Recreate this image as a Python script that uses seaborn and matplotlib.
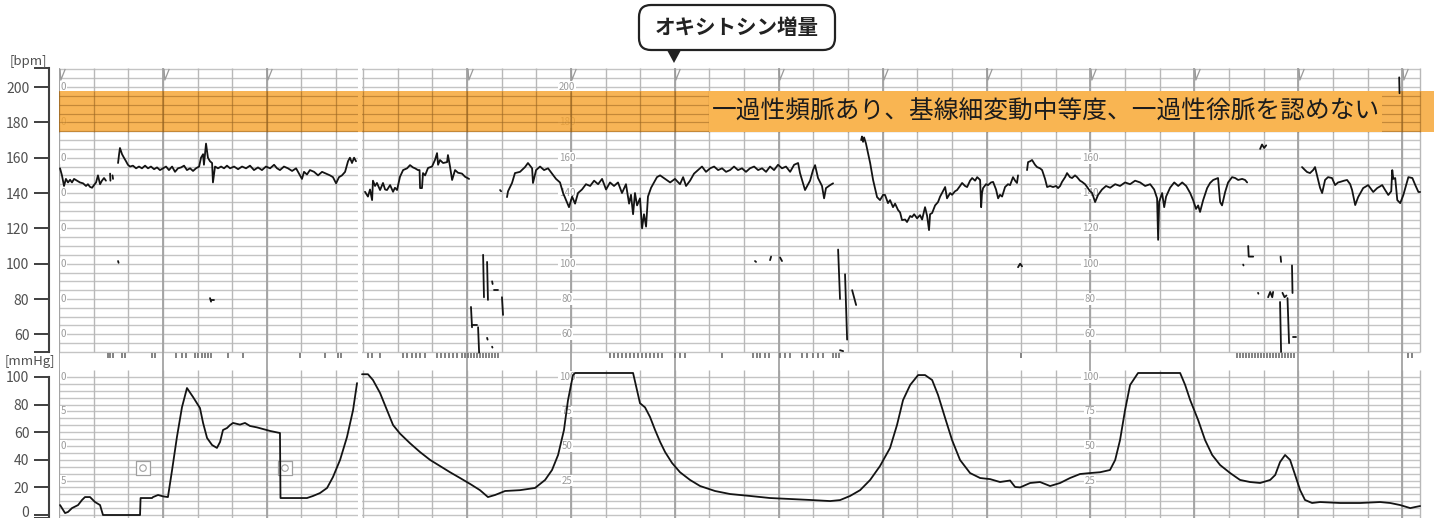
import numpy as np
import pandas as pd
import matplotlib
matplotlib.use("Agg")
import matplotlib.pyplot as plt
import seaborn as sns
from matplotlib.patches import FancyBboxPatch, Polygon, Rectangle
from matplotlib.path import Path
from matplotlib.transforms import IdentityTransform, ScaledTranslation

sns.set_theme(style="white")
plt.rcParams["font.family"] = ["Noto Sans CJK JP", "DejaVu Sans"]

N = np.nan

# ---------------- fetal heart rate (time in s, bpm) ----------------
fhr_p1_t = [0.6, 1.7, 2.9, 4.0, 5.2, 6.4, 7.5, 8.7, 10.4, 12.1, 13.9, 15.6, 16.7, 17.9, 19.1, 20.2, 21.4, 22.5,
            23.7, 24.8, 26.0, 27.1, N, 29.5, 29.7, N, 30.9, 31.2, N,
            34.1, 34.7, 35.2, 36.4, 37.5, 38.7, 39.8, 41.0, 42.7, 44.5, 46.2, 47.9, 49.7, 51.4, 53.1, 54.9, 56.6,
            58.3, 60.1, 61.8, 63.5, 65.3, 67.0, 68.7, 70.5, 72.2, 73.9, 75.7, 77.4, 79.1, 80.9, 82.0, 83.2, 83.7,
            84.9, 86.0, 87.2, 88.4, 88.9, 90.1, 91.8, 93.6, 95.3, 97.0, 98.8, 101.1, 103.4, 105.7, 108.0, 110.3,
            112.6, 114.9, 117.2, 119.5, 121.9, 124.2, 125.9, 127.6, 129.9, 132.2, 134.6, 136.9, 138.6, 140.3,
            141.5, 143.2, 144.9, 147.3, 149.6, 151.9, 154.2, 156.5, 158.2, 160.0, 161.7, 163.4, 165.2, 166.9,
            168.0, 169.2, 170.4, 171.5, N]
fhr_p1_bpm = [154, 150, 144, 148, 146, 147.5, 146, 148, 147, 146, 145.5, 144, 145, 143.5, 143, 144.5, 146, 150,
              145, 147, 148.5, 147, N, 151, 147, N, 150, 148, N,
              157, 162, 165.5, 162, 160, 158, 156, 155, 155.5, 154, 155, 154, 155.5, 154, 155, 153.5, 154.5,
              153, 154, 155, 153, 155, 152, 154, 154.5, 155.5, 153, 154, 152.5, 154, 155, 160, 162, 156,
              168, 160, 158, 157, 146, 155, 154, 155, 154, 155.5, 154, 155, 153.5, 155, 154, 155.5,
              153, 154.5, 153, 155, 154, 156, 154, 153, 155, 154, 152.5, 154, 151, 148,
              152, 150.5, 153, 152, 150, 152, 151, 150, 149, 145.5, 149, 150, 152, 158,
              160, 157, 160, 158, N]

fhr_p2_t = [176.7, 178.4, 179.6, 180.8, 181.3, 182.5, 183.6, 185.4, 187.1, 188.3, 189.4, 191.2, 192.9, 194.0,
            195.2, 196.9, 198.7, 201.0, 202.7, 204.4, 205.6, 207.3, 208.2, 208.5, 209.6, 210.2, 211.4, 213.1,
            215.4, 217.1, 218.3, 218.9, 220.0, 221.8, 224.1, 224.6, 225.8, 227.0, 228.7, 230.4, 232.7, 234.5,
            236.8, N, 254.7, 255.3, N,
            258.7, 259.3, 261.6, 263.3, 266.2, 269.1, 270.8, 273.2, 273.7, 275.5, 277.8, 280.1, 282.4, 284.7,
            287.0, 289.3, 291.1, 292.8, 294.5, 296.3, 298.0, 299.7, 302.0, 304.3, 306.7, 309.0, 311.3, 313.6,
            315.9, 318.2, 320.5, 322.8, 325.1, 327.4, 329.2, 330.3, 331.5, 332.6, 333.8, 335.5, 336.7, 337.8,
            339.0, 340.1, 341.9, 343.6, 345.3, 347.1, 350.0, 352.9, 355.7, 358.6, 360.4, 362.1, 364.4, 366.7,
            369.0, 371.3, 373.6, 376.0, 378.3, 380.6, 382.9, 385.2, 387.5, 389.8, 392.1, 394.4, 396.7, 399.0,
            401.4, 403.7, 406.0, 408.3, 410.6, 412.9, 415.2, 417.5, 419.8, 422.2, 424.5, 426.8, 427.9, 430.8,
            433.7, 435.4, 436.6, 438.3, 440.6, 441.8, 442.9, 445.3, 447.0, N]
fhr_p2_bpm = [140.7, 138, 142, 136, 147, 144, 145.7, 141.7, 145.7, 142, 141.7, 144.5, 140.7, 143,
              141.7, 149.2, 153, 154, 155.8, 154.5, 154, 153, 153, 142.8, 142.8, 151.3, 150, 154.2,
              155, 158.7, 162.6, 156, 158.7, 157, 157.5, 161.5, 155, 147.4, 153, 151.5, 151, 149.2,
              148, N, 141.7, 141, N,
              137.7, 141, 145.7, 151.3, 152, 154.7, 157, 154, 145.7, 153, 155, 153, 154, 151,
              148, 146, 140, 136, 132, 138, 134, 140, 142, 145, 144, 147, 145, 148,
              142, 146, 144, 146, 140, 145, 134, 139, 128, 140, 133, 137, 120, 128,
              121, 138, 143, 146, 149, 150, 148, 146, 148, 145, 149, 144, 147, 151,
              153, 155, 152, 154, 155, 153, 154, 152, 153, 155, 153, 154, 152, 154,
              155, 153, 154, 152, 155, 153, 156, 154, 155, 152, 156, 157, 151.3, 141.7,
              147, 153, 155.8, 148.5, 144, 137, 142.8, 144.5, 145.5, N]

fhr_p3_t = [463.2, 463.7, 464.3, 464.9, 466.0, 468.4, 470.1, 472.4, 474.1, 475.9, 477.0, 478.7, 479.9, 481.6,
            482.8, 484.5, 485.7, 486.8, 488.6, 489.7, 491.5, 492.6, 493.8, 495.5, 497.2, 498.4, 500.1, 501.3,
            502.4, 503.0, 504.2, 505.9, 507.6, 508.8, 509.9, 511.7, 512.8, 514.6, 515.7, 517.4, 518.6, 520.3,
            521.5, 523.2, 524.4, 526.1, 527.3, 529.0, 530.2, 531.3, 531.9, 532.5, 533.0, 533.6, 535.3, 536.5,
            538.2, 539.4, 541.1, 542.3, 543.4, 544.6, 546.3, 548.0, 549.2, 550.9, 552.1, 553.2, 553.8, N,
            559.0, 559.6, 560.8, 561.9, 563.6, 564.8, 566.5, 567.7, 569.4, 570.6, 572.3, 574.0, 575.8, 576.9,
            578.1, 579.2, 581.0, 582.1, 583.8, 585.0, 586.7, 587.9, 589.6, 590.8, 592.5, 593.7, 595.4, 596.6,
            598.3, 600.0, 602.3, 604.6, 607.0, 609.9, 612.7, 615.6, 618.5, 621.4, 624.3, 627.2, 630.1, 632.4,
            634.1, 634.7, 635.3, 637.0, 638.2, 639.3, 641.6, 644.0, 646.3, 648.6, 650.9, 653.2, 654.9, 656.6,
            657.8, 658.9, 660.7, 663.0, 664.7, 666.5, 669.3, 670.5, 671.6, 673.4, 675.1, 677.4, 679.2, 680.9,
            683.2, 684.9, 686.1, N]
fhr_p3_bpm = [170, 172, 169, 171.5, 168, 157, 147.4, 137.7, 136, 139, 138.9, 134.3, 136, 132,
              134, 130.4, 129, 124.7, 125, 123.6, 127, 126.4, 128, 125.7, 127.5, 125, 132, 127,
              119, 128, 128.7, 133, 134.9, 138, 140, 143.4, 137, 140, 139, 141, 141.7, 144,
              145.7, 144, 143.4, 147, 148.5, 147, 149, 148, 147.4, 132, 140, 142.8, 145, 144.5,
              146, 146.3, 142, 137, 139, 138, 143.4, 145, 144.5, 149, 147, 145.7, 150, N,
              153, 157.5, 158, 158.7, 156, 154.7, 154, 153, 148, 143.4, 144, 143.4, 144, 142.8,
              144, 146.3, 149, 151.3, 149, 148.5, 150, 149, 147, 146.3, 145, 143.4, 141, 140,
              134.9, 138.9, 142, 144, 143, 145, 144, 146, 145, 147, 146, 144, 145, 142,
              137, 113.5, 135, 140, 132, 138, 143, 146, 144, 146, 144, 140, 136, 131,
              133, 129.3, 136, 142.8, 145.7, 147.4, 148.5, 134.9, 133, 140.6, 146, 149, 148.5, 147.4,
              148, 147.4, 146, N]

fhr_p4_t = [717.8, 719.5, 720.7, 722.4, 724.2, 725.3, 727.1, 728.2, 729.4, 731.1, 732.8, 735.1, 736.9, 738.6,
            739.8, 742.1, 743.8, 745.6, 746.7, 748.5, 750.2, 753.1, 756.0, 758.9, 761.2, 764.1, 765.8, 767.6,
            769.3, 769.9, 770.5, 771.6, 772.8, 774.5, 776.3, 779.2, 781.5, 783.2, 785.0, 786.0]
fhr_p4_bpm = [154.7, 153, 151.9, 151.3, 153, 154.7, 147.4, 143, 140, 147.4, 149, 148.5, 144.5, 146,
              146.3, 147, 147.4, 145, 141.7, 133.2, 137.7, 142.8, 144.5, 140.6, 142.8, 144.5, 141.7, 138.9,
              141, 153, 148, 148.5, 136, 134.3, 138.9, 149, 148.5, 144.5, 140.6, 140.6]

# short stray strokes of the heart-rate pen (maternal pulse / signal loss)
stray_t = [34.1, 34.4, N, 87.2, 87.8, N, 87.8, 89.5, N,
           237.9, 238.5, N, 238.5, 241.4, N, 242.0, 242.6, N, 244.9, 245.4, N, 247.2, 247.7, N,
           250.1, 250.4, N, 251.2, 253.5, N, 255.8, 256.4, N, 247.2, 247.5, N, 250.1, 250.3, N,
           401.9, 402.5, N, 410.6, 411.2, N, 416.4, 417.5, N,
           449.9, 451.0, N, 453.9, 455.1, N, 458.0, 460.3, N, 451.0, 452.8, N,
           553.8, 555.0, 556.1, N,
           683.8, 684.0, N, 686.7, 687.0, 689.6, N, 705.4, 705.7, N, 712.0, 712.3, N, 692.4, 692.6, N,
           698.2, 699.4, 700.6, 701.1, N, 706.5, 707.7, 708.8, N, 705.1, 705.7, N, 709.4, 710.3, N,
           712.6, 714.4, N, 693.6, 694.7, 695.9, 697.1, N, 773.9, 774.1]
stray_bpm = [101.5, 100.5, N, 80.5, 78.5, N, 79.5, 79.5, N,
             75.5, 64, N, 65, 65, N, 64, 49.5, N, 105, 81, N, 101, 79.5, N,
             90, 88.5, N, 85, 85, N, 81, 71, N, 58, 57, N, 53, 52.5, N,
             101.5, 101, N, 102, 104, N, 103.5, 101.5, N,
             108, 80, N, 94, 57, N, 85, 76.6, N, 51, 50.5, N,
             98, 100, 98.5, N,
             99.5, 99, N, 110, 104, 104, N, 104, 101, N, 99, 83.4, N, 83.5, 83, N,
             81, 84, 81, 84, N, 83.5, 81, 82, N, 78.3, 50, N, 80.5, 55, N,
             58.5, 58.5, N, 165, 167.5, 165.5, 167, N, 205.5, 196.5]

# fetal movement marks (s)
movement_t = [28.3, 29.5, 31.2, 36.4, 38.1, 53.7, 55.4, 67.6, 71.0, 73.3, 78.5, 80.3, 82.6, 84.3, 86.0, 87.8,
              97.6, 106.3, 139.2, 153.6, 161.1, 162.9,
              178.4, 180.8, 185.4, 198.7, 201.0, 203.9, 206.2, 208.5, 211.4, 218.3, 220.6, 222.9, 225.2, 227.5,
              229.8, 232.7, 234.5, 236.2, 237.9, 239.7, 241.4, 243.1, 244.9, 246.6, 248.3, 250.1, 251.8, 253.5,
              318.2, 320.5, 322.8, 325.1, 327.4, 329.7, 332.1, 334.4, 336.7, 339.0, 341.3, 343.6, 345.9, 348.2,
              355.7, 358.6, 361.5, 382.9, 400.8, 403.1, 404.8, 407.7, 410.0, 416.4, 419.3, 422.2, 429.1, 432.0,
              435.4, 438.3, 441.2, 447.0, 448.7, 450.5,
              555.6, 680.3, 682.0, 683.8, 685.5, 687.2, 689.0, 690.7, 692.4, 694.2, 695.9, 697.6, 699.4, 701.1,
              702.8, 704.5, 706.3, 708.0, 709.7, 711.5, 713.2, 779.0, 781.3]

# ---------------- uterine contraction (time in s, mmHg) ----------------
uc_p1_t = [0.6, 1.7, 3.5, 5.2, 7.5, 11.0, 13.3, 15.0, 17.9, 20.8, 23.7, 25.4, 46.8, 47.1, 53.7, 54.3, 57.2,
           60.1, 62.9, 65.3, 68.1, 71.0, 73.9, 77.4, 81.4, 83.2, 85.5, 88.4, 91.2, 93.0, 94.7, 97.0, 98.8,
           100.5, 104.5, 107.4, 110.3, 114.3, 117.8, 121.9, 127.6, 127.9, 133.4, 143.2, 146.7, 150.7, 154.8,
           158.2, 162.3, 166.3, 169.8, 172.1, N]
uc_p1_mmhg = [7.2, 5, 1.4, 2.2, 5, 7.2, 10.9, 13, 13, 9.4, 7.2, 0, 0, 12.3, 12.3, 13, 14.5,
              13.5, 13, 32.6, 56.5, 78, 92, 85.5, 77.5, 66.7, 55.8, 50.7, 48.6, 52.9, 61.6, 63, 65.2,
              66.7, 65.5, 66.7, 64.5, 63.5, 62.3, 60.9, 59.4, 12.3, 12.3, 12.3, 13.8, 15.9, 19.6,
              27.5, 39.9, 56.5, 76, 95.6, N]

uc_p2_t = [175.0, 178.4, 181.3, 185.4, 189.4, 192.9, 196.9, 202.7, 208.5, 214.3, 220.0, 225.8, 231.6, 237.4,
           243.1, 247.7, 251.8, 257.6, 266.2, 274.9, 280.7, 284.7, 288.2, 291.6, 293.9, 296.8, 298.0, 331.5,
           335.5, 338.4, 341.3, 344.2, 347.1, 350.0, 354.0, 358.6, 364.4, 370.2, 378.8, 387.5, 399.0, 410.6,
           422.2, 433.7, 445.3, 451.0, 456.8, 462.6, 468.4, 474.1, 479.9, 483.9, 487.4, 491.5, 496.1, 500.1,
           504.2, 507.6, 511.7, 515.7, 520.3, 526.1, 531.9, 537.7, 543.4, 549.2, 552.1, 555.0, 560.8, 566.5,
           572.3, 578.1, 583.8, 589.6, 595.4, 601.2, 606.9, 609.9, 612.7, 615.6, 618.5, 623.1, 647.4, 650.3,
           653.2, 657.8, 661.8, 665.9, 670.5, 676.3, 682.0, 687.8, 693.6, 699.4, 702.3, 705.1, 708.0, 710.9,
           713.8, 716.7, 719.5, 723.6, 728.2, 739.8, 751.3, 762.9, 768.7, 774.5, 780.3, 783.2, 786.0]
uc_p2_mmhg = [102, 102, 97.8, 88.4, 76, 65.2, 59, 52, 45.6, 39.9, 35.5, 31, 26.8, 22.5,
              18, 13, 14.5, 17.4, 18, 19.6, 25.4, 32.6, 43.5, 61.6, 83, 101.4, 102.9, 102.9,
              81, 78, 71, 61.6, 53, 45.6, 37.7, 31, 25.4, 21, 17.4, 15.2, 13.8, 12.3,
              11.6, 10.9, 10.1, 10.8, 13.8, 18, 25.4, 35.5, 48.6, 65.2, 83.3, 94.2, 101.4, 101.4,
              97.8, 87, 70.3, 54.3, 39.9, 30.4, 26.8, 26, 23.9, 25, 20.3, 20, 23.2, 23.9,
              21, 23.2, 26.8, 29.7, 30.4, 31, 32.6, 39.9, 54.3, 76, 94.2, 102.9, 102.9, 94.2,
              83.3, 68.8, 54.3, 43.5, 36.2, 30.4, 25.4, 23.9, 23.2, 25.4, 29, 38.4, 43.5, 39.9,
              29, 18, 10.9, 8.7, 9.4, 8.7, 8.7, 9.4, 8.7, 7.2, 5, 5.8, 6.5]

marker_t = [48.5, 130.5]
marker_mmhg = [34, 34]

fhr_ticks = [60, 80, 100, 120, 140, 160, 180, 200]
uc_ticks = [0, 20, 40, 60, 80, 100]
paper_fhr_values = [200, 180, 160, 140, 120, 100, 80, 60]
paper_uc_values = [100, 75, 50, 25]
finding_text = "一過性頻脈あり、基線細変動中等度、一過性徐脈を認めない"
event_text = "オキシトシン増量"

# ---------------- layout ----------------
W, H, DPI = 1434, 518, 100
T_END = 794.0          # right edge of the figure (s)
PAPER_END = 786.0      # right edge of the recording paper (s)
BREAK = (172.7, 175.0) # white seam between two sheets
FHR_LIM = (39.8, 210.8)
UC_LIM = (-2.17, 105.07)
BAND = (174.5, 198.0)
NOTE_X = (375.4, 764.0)

fig = plt.figure(figsize=(W / DPI, H / DPI), dpi=DPI)
fig.patch.set_facecolor("white")
ax_fhr = fig.add_axes([59 / W, 148 / H, (W - 59) / W, 302 / H])
ax_uc = fig.add_axes([59 / W, 0, (W - 59) / W, 148 / H])

heavy_x = np.concatenate([np.arange(0, 121, 60), np.arange(235.6, PAPER_END, 60)])
light_x = np.concatenate([np.arange(0, 161, 20), np.arange(175.6, PAPER_END, 20), [PAPER_END]])

H_COL, L_COL, K_COL = "#c4c4c4", "#b8b8b8", "#a2a2a2"


def draw_paper(ax, h_lines, v_lo, v_hi, heavy_lo):
    ax.hlines(h_lines, 0, PAPER_END, colors=H_COL, lw=1.0, zorder=1)
    ax.vlines(light_x, v_lo, v_hi, colors=L_COL, lw=1.0, zorder=1)
    ax.vlines(heavy_x, heavy_lo, v_hi, colors=K_COL, lw=1.3, zorder=1.1)
    ax.axvspan(*BREAK, color="white", lw=0, zorder=1.3)


draw_paper(ax_fhr, np.arange(50, 211, 5), 50, FHR_LIM[1], FHR_LIM[0])
draw_paper(ax_uc, np.arange(0, 101, 5), UC_LIM[0], UC_LIM[1], UC_LIM[0])

# printed scale numbers on the paper (skipped where the note box covers them)
lab_kw = dict(ha="center", va="center", fontsize=7, color="#9c9c9c", zorder=1.6,
              bbox=dict(facecolor="white", edgecolor="none", pad=0.6))
for v in paper_fhr_values:
    for xp in (293.4, 595.4):
        if NOTE_X[0] < xp < NOTE_X[1] and BAND[0] - 3 < v < BAND[1] + 3:
            continue
        ax_fhr.text(xp, v, str(v), **lab_kw)
    ax_fhr.text(2.4, v, str(v)[-1], **lab_kw)
for v in paper_uc_values:
    for xp in (293.4, 595.4):
        ax_uc.text(xp, v, str(v), **lab_kw)
    ax_uc.text(2.4, v, str(v)[-1], **lab_kw)

# printer minute marks on the heavy rulings
tick_mark = Path([(-0.45, 1.0), (-0.3, -1.0), (0.5, 1.0)], [Path.MOVETO, Path.LINETO, Path.LINETO])
ax_fhr.plot(heavy_x + 1.5, np.full(len(heavy_x), 207.6), ls="none", marker=tick_mark, ms=8,
            mfc="none", mec="#9a9a9a", mew=0.9, zorder=1.7)

# highlighted band
ax_fhr.axhspan(*BAND, xmin=0, xmax=1, color="#F6A22C", alpha=0.8, lw=0, zorder=2)
band_h = [175, 180, 185, 190, 195]
ax_fhr.hlines(band_h, 0, PAPER_END, colors="#8a5a1e", lw=0.8, alpha=0.4, zorder=2.1)
ax_fhr.vlines(light_x, *BAND, colors="#8a5a1e", lw=0.9, alpha=0.45, zorder=2.1)
ax_fhr.vlines(heavy_x, *BAND, colors="#8a5a1e", lw=1.1, alpha=0.5, zorder=2.1)
ax_fhr.axvspan(*BREAK, ymin=(BAND[0] - FHR_LIM[0]) / (FHR_LIM[1] - FHR_LIM[0]),
               ymax=(BAND[1] - FHR_LIM[0]) / (FHR_LIM[1] - FHR_LIM[0]), color="#F8B556", lw=0, zorder=2.15)
ax_fhr.add_patch(Rectangle((NOTE_X[0], BAND[0]), NOTE_X[1] - NOTE_X[0], BAND[1] - BAND[0],
                           facecolor="#F9B552", edgecolor="none", zorder=3))
ax_fhr.text(sum(NOTE_X) / 2, 186.3, finding_text, ha="center", va="center", fontsize=17.8,
            color="#1c1c1c", zorder=4)


def frame(t, v):
    t = np.asarray(t, float)
    v = np.asarray(v, float)
    seg = np.cumsum(np.isnan(v))
    return pd.DataFrame({"t": t, "v": v, "seg": seg}).dropna()


TRACE = "#141414"
fhr_t = fhr_p1_t + fhr_p2_t + fhr_p3_t + fhr_p4_t
fhr_bpm = fhr_p1_bpm + fhr_p2_bpm + fhr_p3_bpm + fhr_p4_bpm
for t, v in ((fhr_t, fhr_bpm), (stray_t, stray_bpm)):
    sns.lineplot(data=frame(t, v), x="t", y="v", units="seg", estimator=None, sort=False,
                 color=TRACE, lw=1.3, ax=ax_fhr, zorder=5)
ax_fhr.vlines(movement_t, 46.8, 49.4, colors="#6e6e6e", lw=1.2, zorder=5)

sns.lineplot(data=frame(uc_p1_t + uc_p2_t, uc_p1_mmhg + uc_p2_mmhg), x="t", y="v", units="seg",
             estimator=None, sort=False, color=TRACE, lw=1.3, ax=ax_uc, zorder=5)
ax_uc.scatter(marker_t, marker_mmhg, marker="s", s=110, facecolor="white", edgecolor="#a0a0a0",
              lw=0.9, zorder=4)
ax_uc.scatter(marker_t, marker_mmhg, marker="o", s=22, facecolor="none", edgecolor="#a0a0a0",
              lw=0.8, zorder=4.1)

# axes: limits, ticks and offset spines
for ax, lim, ticks, lo, hi in ((ax_fhr, FHR_LIM, fhr_ticks, 50, FHR_LIM[1]),
                               (ax_uc, UC_LIM, uc_ticks, UC_LIM[0], 100)):
    ax.set_xlim(0, T_END)
    ax.set_ylim(*lim)
    ax.set_facecolor("none")
    ax.set_xlabel("")
    ax.set_ylabel("")
    ax.set_xticks([])
    ax.set_yticks(ticks)
    ax.set_yticks([lo, hi], minor=True)
    for s in ("top", "right", "bottom"):
        ax.spines[s].set_visible(False)
    sp = ax.spines["left"]
    sp.set_visible(True)
    sp.set_position(("outward", 7.2))
    sp.set_bounds(lo, hi)
    sp.set_color("#3f3f3f")
    sp.set_linewidth(1.5)
    ax.tick_params(axis="y", which="both", direction="out", length=10.8, width=1.4, color="#3f3f3f",
                   pad=3.4, labelsize=10, labelcolor="#505050", left=True)

# keep the lowest pressure label inside the canvas
zero_tick = ax_uc.yaxis.get_major_ticks()[0]
zero_tick.label1.set_transform(zero_tick.label1.get_transform() +
                               ScaledTranslation(0, 4 / DPI, fig.dpi_scale_trans))

fig.text(10 / W, 1 - 61 / H, "[bpm]", va="center", ha="left", fontsize=9.5, color="#505050")
fig.text(5 / W, 1 - 362 / H, "[mmHg]", va="center", ha="left", fontsize=9.5, color="#505050")

# call-out above the trace
px = IdentityTransform()
fig.add_artist(FancyBboxPatch((639, H - 50), 196, 45, boxstyle="round,pad=0,rounding_size=12",
                              transform=px, facecolor="white", edgecolor="#222222", lw=1.6))
fig.add_artist(Polygon([(667.5, H - 51), (680.5, H - 51), (674, H - 63)], closed=True, transform=px,
                       facecolor="#222222", edgecolor="none"))
fig.text(737 / W, 1 - 28 / H, event_text, ha="center", va="center", fontsize=14.8,
         fontweight="bold", color="#222222")

fig.savefig("out.png", dpi=DPI)
